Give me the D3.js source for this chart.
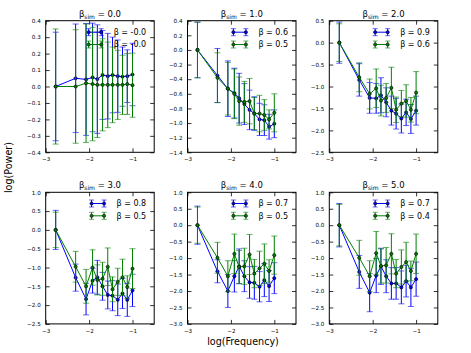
<!DOCTYPE html>
<html><head><meta charset="utf-8">
<script src="https://cdn.jsdelivr.net/npm/d3@7"></script>
<style>body{margin:0;background:#fff}svg{display:block;font-family:"DejaVu Sans",sans-serif}</style>
</head><body>
<svg id="c" width="471" height="353"></svg>
<script>
const logFreq = [-2.77, -2.31, -2.07, -1.92, -1.81, -1.69, -1.57, -1.46, -1.34, -1.23, -1.12, -1.00];
const simBeta = ["0.0", "1.0", "2.0", "3.0", "4.0", "5.0"];
const blueBeta = ["-0.0", "0.6", "0.9", "0.8", "0.7", "0.7"];
const greenBeta = ["-0.0", "0.5", "0.6", "0.5", "0.5", "0.4"];

const blue0 = [0.0, 0.05, 0.043, 0.055, 0.045, 0.07, 0.063, 0.07, 0.063, 0.06, 0.063, 0.073];
const blueErr0 = [0.33, 0.33, 0.34, 0.33, 0.33, 0.27, 0.26, 0.23, 0.22, 0.18, 0.16, 0.19];
const green0 = [0.0, 0.0, 0.02, 0.015, 0.01, 0.01, 0.01, 0.01, 0.01, 0.01, 0.015, 0.008];
const greenErr0 = [0.35, 0.345, 0.36, 0.345, 0.32, 0.28, 0.26, 0.23, 0.21, 0.18, 0.185, 0.195];

const blue1 = [0.0, -0.35, -0.53, -0.59, -0.66, -0.74, -0.82, -0.87, -0.95, -0.96, -1.05, -1.01];
const blueErr1 = [0.38, 0.37, 0.38, 0.34, 0.34, 0.28, 0.27, 0.23, 0.22, 0.21, 0.17, 0.19];
const green1 = [0.0, -0.38, -0.53, -0.60, -0.70, -0.71, -0.70, -0.87, -0.87, -0.89, -0.95, -0.86];
const greenErr1 = [0.38, 0.34, 0.36, 0.34, 0.33, 0.28, 0.31, 0.22, 0.25, 0.21, 0.13, 0.26];

const blue2 = [0.0, -0.85, -1.26, -1.27, -1.20, -1.36, -1.55, -1.62, -1.73, -1.59, -1.74, -1.55];
const blueErr2 = [0.47, 0.37, 0.35, 0.34, 0.40, 0.33, 0.33, 0.35, 0.33, 0.30, 0.33, 0.33];
const green2 = [0.0, -0.79, -1.17, -1.04, -1.32, -1.26, -1.03, -1.53, -1.39, -1.33, -1.53, -1.14];
const greenErr2 = [0.43, 0.33, 0.34, 0.44, 0.35, 0.33, 0.47, 0.29, 0.30, 0.37, 0.28, 0.48];

const blue3 = [0.0, -1.27, -1.84, -1.35, -1.26, -1.50, -1.73, -1.75, -1.86, -1.69, -1.86, -1.61];
const blueErr3 = [0.52, 0.36, 0.42, 0.33, 0.45, 0.37, 0.37, 0.40, 0.42, 0.40, 0.44, 0.43];
const green3 = [0.0, -0.98, -1.50, -1.00, -1.33, -1.30, -0.98, -1.58, -1.38, -1.26, -1.52, -1.03];
const greenErr3 = [0.47, 0.41, 0.45, 0.47, 0.40, 0.44, 0.50, 0.33, 0.36, 0.48, 0.30, 0.53];

const blue4 = [0.0, -1.40, -2.00, -1.55, -1.25, -1.55, -1.74, -1.75, -1.87, -1.67, -1.85, -1.61];
const blueErr4 = [0.58, 0.35, 0.50, 0.48, 0.53, 0.47, 0.48, 0.50, 0.46, 0.50, 0.47, 0.47];
const green4 = [0.0, -0.99, -1.55, -0.87, -1.27, -1.25, -0.89, -1.47, -1.31, -1.17, -1.39, -0.91];
const greenErr4 = [0.55, 0.47, 0.47, 0.60, 0.50, 0.55, 0.61, 0.43, 0.52, 0.60, 0.34, 0.58];

const blue5 = [0.0, -1.42, -2.05, -1.53, -1.25, -1.55, -1.77, -1.77, -1.89, -1.70, -1.89, -1.64];
const blueErr5 = [0.66, 0.50, 0.58, 0.52, 0.55, 0.50, 0.48, 0.48, 0.50, 0.48, 0.58, 0.52];
const green5 = [0.0, -0.99, -1.55, -0.85, -1.24, -1.22, -0.87, -1.47, -1.27, -1.12, -1.39, -0.87];
const greenErr5 = [0.63, 0.53, 0.47, 0.66, 0.52, 0.54, 0.61, 0.43, 0.52, 0.60, 0.30, 0.60];

const xTicks = [-3, -2, -1];
const yTicks0 = [-0.4, -0.3, -0.2, -0.1, 0.0, 0.1, 0.2, 0.3, 0.4];
const yTicks1 = [-1.4, -1.2, -1.0, -0.8, -0.6, -0.4, -0.2, 0.0, 0.2, 0.4];
const yTicks2 = [-2.5, -2.0, -1.5, -1.0, -0.5, 0.0, 0.5];
const yTicks3 = [-2.5, -2.0, -1.5, -1.0, -0.5, 0.0, 0.5, 1.0];
const yTicks4 = [-3.0, -2.5, -2.0, -1.5, -1.0, -0.5, 0.0, 0.5, 1.0];
const yTicks5 = [-3.0, -2.5, -2.0, -1.5, -1.0, -0.5, 0.0, 0.5, 1.0];

const panels = [
  {blue: blue0, be: blueErr0, green: green0, ge: greenErr0, yt: yTicks0},
  {blue: blue1, be: blueErr1, green: green1, ge: greenErr1, yt: yTicks1},
  {blue: blue2, be: blueErr2, green: green2, ge: greenErr2, yt: yTicks2},
  {blue: blue3, be: blueErr3, green: green3, ge: greenErr3, yt: yTicks3},
  {blue: blue4, be: blueErr4, green: green4, ge: greenErr4, yt: yTicks4},
  {blue: blue5, be: blueErr5, green: green5, ge: greenErr5, yt: yTicks5}
];

const svg = d3.select("#c");
const BLUE = "#0000ff", GREEN = "#008000";
const colLeft = [45.7, 187.5, 329.3], W = 108.5;
const rowTop = [20.7, 192.3], H = 131.6;
const fmt = v => d3.format(".1f")(v).replace("-", "\u2212");

panels.forEach((p, i) => {
  const r = Math.floor(i / 3), c = i % 3;
  const x0 = colLeft[c], y0 = rowTop[r];
  const g = svg.append("g").attr("transform", `translate(${x0},${y0})`);
  const x = d3.scaleLinear().domain([-3, -0.5]).range([0, W]);
  const y = d3.scaleLinear().domain([p.yt[0], p.yt[p.yt.length - 1]]).range([H, 0]);

  const cid = "clip" + i;
  g.append("clipPath").attr("id", cid).append("rect").attr("width", W).attr("height", H);
  const plot = g.append("g").attr("clip-path", `url(#${cid})`);

  const drawSeries = (vals, errs, color) => {
    const s = plot.append("g");
    vals.forEach((v, k) => {
      const cx = x(logFreq[k]);
      s.append("line").attr("x1", cx).attr("x2", cx).attr("y1", y(v - errs[k])).attr("y2", y(v + errs[k]))
        .attr("stroke", color).attr("stroke-width", 1);
      [v - errs[k], v + errs[k]].forEach(e => {
        s.append("line").attr("x1", cx - 3).attr("x2", cx + 3).attr("y1", y(e)).attr("y2", y(e))
          .attr("stroke", color).attr("stroke-width", 1).attr("opacity", 0.6);
      });
    });
    s.append("path").datum(vals.map((v, k) => [logFreq[k], v]))
      .attr("d", d3.line().x(d => x(d[0])).y(d => y(d[1])))
      .attr("fill", "none").attr("stroke", color).attr("stroke-width", 1);
    s.selectAll("circle").data(vals).join("circle")
      .attr("cx", (d, k) => x(logFreq[k])).attr("cy", d => y(d)).attr("r", 1.6)
      .attr("fill", color).attr("stroke", "#000").attr("stroke-width", 0.6);
  };
  drawSeries(p.blue, p.be, BLUE);
  drawSeries(p.green, p.ge, GREEN);

  // axes
  const yl = d3.axisLeft(y).tickValues(p.yt).tickSize(-4).tickPadding(5).tickFormat(fmt);
  const yr = d3.axisRight(y).tickValues(p.yt).tickSize(-4).tickFormat("");
  const xb = d3.axisBottom(x).tickValues(xTicks).tickSize(-4).tickPadding(5).tickFormat(v => String(v).replace("-", "\u2212"));
  const xt = d3.axisTop(x).tickValues(xTicks).tickSize(-4).tickFormat("");
  const styleAx = a => {
    a.select(".domain").remove();
    a.selectAll("line").attr("stroke", "#000").attr("stroke-width", 0.8);
    a.selectAll("text").attr("font-size", 5.6).attr("fill", "#000").attr("font-family", "DejaVu Sans");
  };
  g.append("g").call(yl).call(styleAx);
  g.append("g").attr("transform", `translate(${W},0)`).call(yr).call(styleAx);
  g.append("g").attr("transform", `translate(0,${H})`).call(xb).call(styleAx);
  g.append("g").call(xt).call(styleAx);
  g.append("rect").attr("width", W).attr("height", H).attr("fill", "none").attr("stroke", "#000").attr("stroke-width", 1);

  // title
  const t = g.append("text").attr("x", W / 2).attr("y", -4).attr("text-anchor", "middle")
    .attr("font-size", 8.5).attr("fill", "#000");
  t.append("tspan").text("\u03b2");
  t.append("tspan").attr("font-size", 6).attr("dy", 2).text("sim");
  t.append("tspan").attr("dy", -2).text(" = " + simBeta[i]);

  // legend
  const items = [[BLUE, blueBeta[i]], [GREEN, greenBeta[i]]];
  items.forEach(([col, lab], k) => {
    const cy = (r === 0 ? 11.5 : 11.2) + k * 12.3;
    const tx = g.append("text").attr("y", cy + 3).attr("font-size", 8).attr("fill", "#000").text("\u03b2 = " + lab);
    const len = tx.node().getComputedTextLength();
    const ts = W - 8 - len;
    tx.attr("x", ts);
    const hx1 = ts - 25, hx2 = ts - 12.5;
    const lg = g.append("g");
    lg.append("line").attr("x1", hx1).attr("x2", hx2).attr("y1", cy).attr("y2", cy).attr("stroke", col).attr("stroke-width", 1);
    [hx1, hx2].forEach(hx => {
      lg.append("line").attr("x1", hx).attr("x2", hx).attr("y1", cy - 3.5).attr("y2", cy + 3.5).attr("stroke", col).attr("stroke-width", 1);
      [cy - 3.5, cy + 3.5].forEach(yy => lg.append("line").attr("x1", hx - 2.5).attr("x2", hx + 2.5).attr("y1", yy).attr("y2", yy)
        .attr("stroke", col).attr("stroke-width", 1).attr("opacity", 0.6));
      lg.append("circle").attr("cx", hx).attr("cy", cy).attr("r", 1.6).attr("fill", col).attr("stroke", "#000").attr("stroke-width", 0.6);
    });
  });
});

svg.append("text").attr("transform", "translate(12,167.5) rotate(-90)").attr("text-anchor", "middle")
  .attr("font-size", 9.6).attr("fill", "#000").text("log(Power)");
svg.append("text").attr("x", 243).attr("y", 345).attr("text-anchor", "middle")
  .attr("font-size", 9.6).attr("fill", "#000").text("log(Frequency)");
</script>
</body></html>
